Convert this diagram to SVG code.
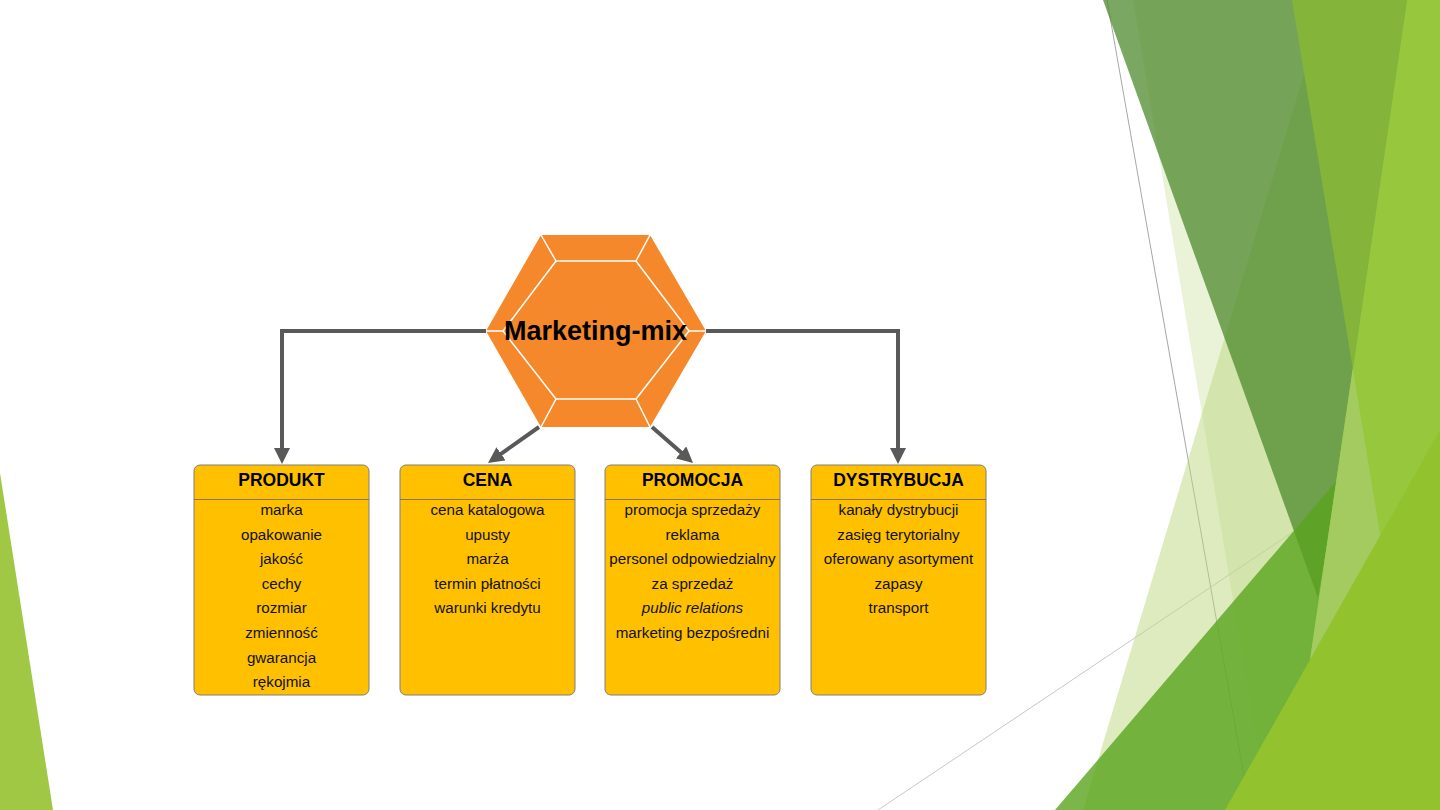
<svg xmlns="http://www.w3.org/2000/svg" width="1440" height="810" viewBox="0 0 1440 810">
<defs>
<style>
.box{fill:#FFC000;stroke:#7F7F7F;stroke-width:1}
.div{stroke:#8C7440;stroke-width:1}
.hdr{font-family:"Liberation Sans",Arial,sans-serif;font-weight:bold;font-size:17.5px;fill:#000;text-anchor:middle}
.itm{font-family:"Liberation Sans",Arial,sans-serif;font-size:15.2px;fill:#111;text-anchor:middle}
.conn{fill:none;stroke:#595959;stroke-width:4}
.bev{fill:none;stroke:#FFFFFF;stroke-width:1.5;stroke-linejoin:round}
</style>
<marker id="arr" viewBox="0 0 16 16" refX="4" refY="8" markerWidth="16" markerHeight="16" markerUnits="userSpaceOnUse" orient="auto">
<path d="M0,0 L16,8 L0,16 z" fill="#595959"/>
</marker>
</defs>
<rect width="1440" height="810" fill="#FFFFFF"/>
<g id="background">
<polygon points="0,473 53,810 0,810" fill="#A0C845"/>
<line x1="1107" y1="0" x2="1250" y2="810" stroke="#A6A6A6" stroke-width="1"/>
<line x1="878" y1="810" x2="1293" y2="532" stroke="#C8C8C8" stroke-width="1"/>
<polygon points="1133,0 1440,0 1440,810 1268,810" fill="#C2DC8E" opacity="0.35"/>
<polygon points="1326,0 1440,0 1440,810 1083,810" fill="#BCD880" opacity="0.5"/>
<polygon points="1103,0 1420,0 1318,598" fill="#4E8A2E" opacity="0.75"/>
<polygon points="1055,810 1440,360 1440,810" fill="#5AA41E" opacity="0.8"/>
<polygon points="1292,0 1407,0 1352.8,368.6" fill="#84B43A"/>
<polygon points="1407,0 1440,0 1440,810 1288,810" fill="#97C73D"/>
<polygon points="1352.8,368.6 1380.3,535.4 1310,659.7" fill="#A3CB5F"/>
<polygon points="1440,430 1440,810 1225,810" fill="#93C22F"/>
</g>
<g id="connectors">
<path class="conn" d="M486,331 H282 V452" marker-end="url(#arr)"/>
<path class="conn" d="M706,331 H898 V452" marker-end="url(#arr)"/>
<path class="conn" d="M539,427 L497.8,456.1" marker-end="url(#arr)"/>
<path class="conn" d="M652,427 L684,455.1" marker-end="url(#arr)"/>
</g>
<g id="marketing-mix">
<polygon points="541,235 650,235 706,331 650,427 541,427 486,331" fill="#F5882B"/>
<polygon class="bev" points="556,261 636,261 689,331 636,399 556,399 503,331"/>
<path class="bev" d="M541,235 L556,261 M650,235 L636,261 M706,331 L689,331 M650,427 L636,399 M541,427 L556,399 M486,331 L503,331"/>
<text x="595.5" y="340" font-family="'Liberation Sans',Arial,sans-serif" font-weight="bold" font-size="27px" fill="#000" text-anchor="middle">Marketing-mix</text>
</g>
<g id="produkt">
<rect class="box" x="194" y="465" width="175" height="230" rx="6"/>
<line class="div" x1="194" y1="499.5" x2="369" y2="499.5"/>
<text class="hdr" x="281.5" y="486">PRODUKT</text>
<text class="itm" x="281.5" y="515">marka</text>
<text class="itm" x="281.5" y="539.6">opakowanie</text>
<text class="itm" x="281.5" y="564.2">jakość</text>
<text class="itm" x="281.5" y="588.8">cechy</text>
<text class="itm" x="281.5" y="613.4">rozmiar</text>
<text class="itm" x="281.5" y="638">zmienność</text>
<text class="itm" x="281.5" y="662.6">gwarancja</text>
<text class="itm" x="281.5" y="687.2">rękojmia</text>
</g>
<g id="cena">
<rect class="box" x="400" y="465" width="175" height="230" rx="6"/>
<line class="div" x1="400" y1="499.5" x2="575" y2="499.5"/>
<text class="hdr" x="487.5" y="486">CENA</text>
<text class="itm" x="487.5" y="515">cena katalogowa</text>
<text class="itm" x="487.5" y="539.6">upusty</text>
<text class="itm" x="487.5" y="564.2">marża</text>
<text class="itm" x="487.5" y="588.8">termin płatności</text>
<text class="itm" x="487.5" y="613.4">warunki kredytu</text>
</g>
<g id="promocja">
<rect class="box" x="605" y="465" width="175" height="230" rx="6"/>
<line class="div" x1="605" y1="499.5" x2="780" y2="499.5"/>
<text class="hdr" x="692.5" y="486">PROMOCJA</text>
<text class="itm" x="692.5" y="515">promocja sprzedaży</text>
<text class="itm" x="692.5" y="539.6">reklama</text>
<text class="itm" x="692.5" y="564.2">personel odpowiedzialny</text>
<text class="itm" x="692.5" y="588.8">za sprzedaż</text>
<text class="itm" x="692.5" y="613.4" font-style="italic">public relations</text>
<text class="itm" x="692.5" y="638">marketing bezpośredni</text>
</g>
<g id="dystrybucja">
<rect class="box" x="811" y="465" width="175" height="230" rx="6"/>
<line class="div" x1="811" y1="499.5" x2="986" y2="499.5"/>
<text class="hdr" x="898.5" y="486">DYSTRYBUCJA</text>
<text class="itm" x="898.5" y="515">kanały dystrybucji</text>
<text class="itm" x="898.5" y="539.6">zasięg terytorialny</text>
<text class="itm" x="898.5" y="564.2">oferowany asortyment</text>
<text class="itm" x="898.5" y="588.8">zapasy</text>
<text class="itm" x="898.5" y="613.4">transport</text>
</g>
</svg>
